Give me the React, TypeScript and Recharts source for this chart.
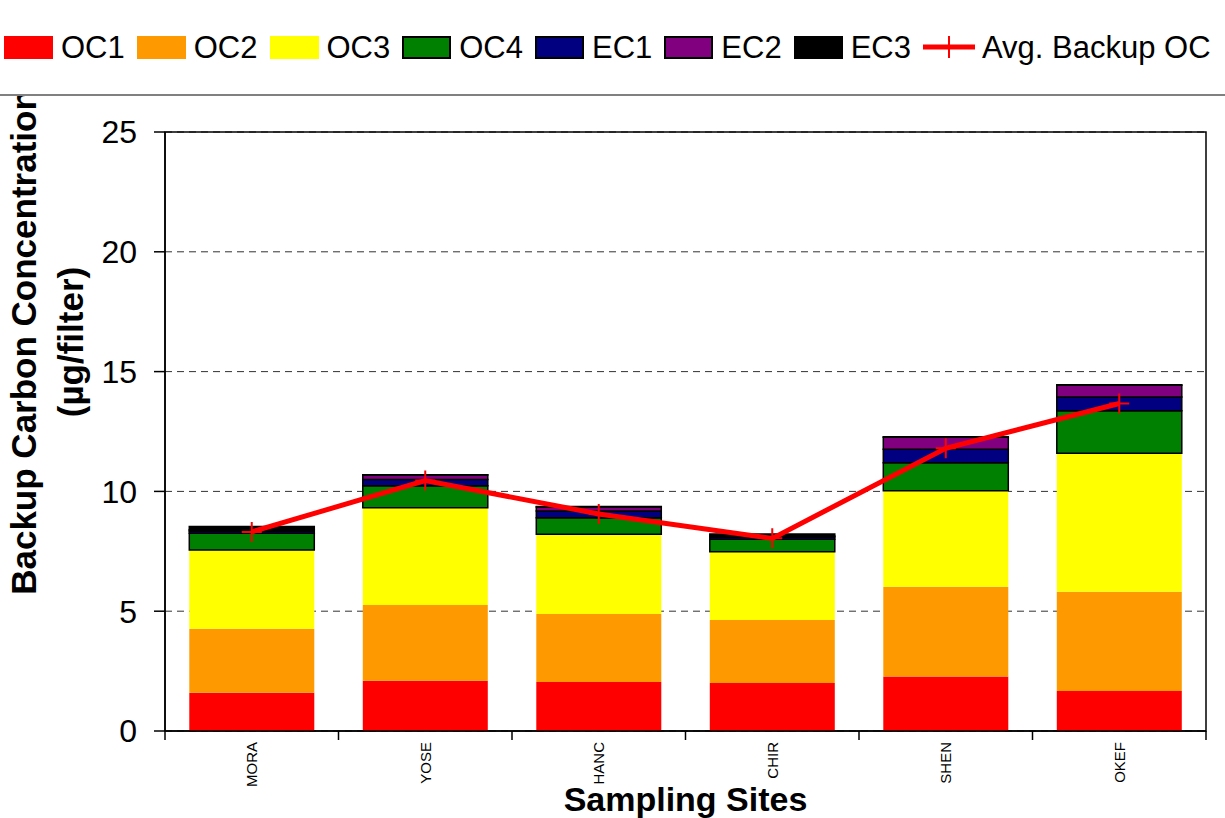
import React from 'react';
import {
  ComposedChart,
  Bar,
  Line,
  XAxis,
  YAxis,
  CartesianGrid,
  Legend,
  ReferenceArea,
} from 'recharts';

const sites = ['MORA', 'YOSE', 'HANC', 'CHIR', 'SHEN', 'OKEF'];
const oc1 = [1.6, 2.1, 2.05, 2.0, 2.27, 1.67];
const oc2 = [2.67, 3.16, 2.83, 2.63, 3.75, 4.14];
const oc3 = [3.28, 4.06, 3.33, 2.85, 4.01, 5.78];
const oc4 = [0.7, 0.92, 0.69, 0.52, 1.17, 1.78];
const ec1 = [0.1, 0.26, 0.28, 0.1, 0.56, 0.57];
const ec2 = [0.05, 0.18, 0.17, 0.04, 0.5, 0.49];
const ec3 = [0.13, 0.02, 0.02, 0.08, 0.02, 0.02];
const avgBackupOC = [8.31, 10.45, 9.06, 8.04, 11.8, 13.67];
const yTicks = [0, 5, 10, 15, 20, 25];

const data = sites.map((site, i) => ({
  site,
  OC1: oc1[i],
  OC2: oc2[i],
  OC3: oc3[i],
  OC4: oc4[i],
  EC1: ec1[i],
  EC2: ec2[i],
  EC3: ec3[i],
  avg: avgBackupOC[i],
}));

const FONT = '"Liberation Sans", Arial, Helvetica, sans-serif';

const series = [
  { key: 'OC1', color: '#FF0000', border: false },
  { key: 'OC2', color: '#FF9900', border: false },
  { key: 'OC3', color: '#FFFF00', border: false },
  { key: 'OC4', color: '#008000', border: true },
  { key: 'EC1', color: '#000080', border: true },
  { key: 'EC2', color: '#800080', border: true },
  { key: 'EC3', color: '#000000', border: true },
];

const X_TICK_SIZE = 8;
const X_TICK_MARGIN = 3;

const XTick = (props: any) => {
  const { x, y, payload, index, visibleTicksCount, width } = props;
  const count = visibleTicksCount || sites.length;
  const half = (width || 1041) / count / 2;
  const axisY = y - X_TICK_SIZE - X_TICK_MARGIN;
  return (
    <g>
      <line x1={x - half} x2={x - half} y1={axisY} y2={axisY + 9} stroke="#000" strokeWidth={1.5} />
      {index === count - 1 && (
        <line x1={x + half} x2={x + half} y1={axisY} y2={axisY + 9} stroke="#000" strokeWidth={1.5} />
      )}
      <text
        x={x}
        y={y}
        dy="0.36em"
        transform={`rotate(-90, ${x}, ${y})`}
        textAnchor="end"
        fontFamily={FONT}
        fontSize={15}
        fill="#000"
      >
        {payload.value}
      </text>
    </g>
  );
};

const PlusDot = (props: any) => {
  const { cx, cy, index } = props;
  if (cx == null || cy == null) return <g key={`d${index}`} />;
  return (
    <path
      key={`d${index}`}
      d={`M${cx - 10},${cy}H${cx + 10}M${cx},${cy - 10}V${cy + 10}`}
      stroke="#FF0000"
      strokeWidth={2}
      fill="none"
    />
  );
};

const YLabel = (props: any) => {
  const cy = 342;
  return (
    <g>
      <text
        x={36}
        y={cy}
        transform={`rotate(-90, 36, ${cy})`}
        textAnchor="middle"
        fontFamily={FONT}
        fontWeight="bold"
        fontSize={35}
        fill="#000"
      >
        Backup Carbon Concentration
      </text>
      <text
        x={83}
        y={cy}
        transform={`rotate(-90, 83, ${cy})`}
        textAnchor="middle"
        fontFamily={FONT}
        fontWeight="bold"
        fontSize={35}
        fill="#000"
      >
        (µg/filter)
      </text>
    </g>
  );
};

const XLabel = (props: any) => {
  const vb = props.viewBox || { x: 165, y: 731, width: 1041, height: 87 };
  return (
    <text
      x={vb.x + vb.width / 2}
      y={811}
      textAnchor="middle"
      fontFamily={FONT}
      fontWeight="bold"
      fontSize={34}
      fill="#000"
    >
      Sampling Sites
    </text>
  );
};

const LegendContent = () => (
  <div
    style={{
      width: 1225,
      height: 94,
      background: '#fff',
      borderBottom: '2px solid #808080',
      display: 'flex',
      alignItems: 'center',
      paddingLeft: 4,
      boxSizing: 'content-box',
      fontFamily: FONT,
      fontSize: 31,
      color: '#000',
      lineHeight: 1,
    }}
  >
    {series.map((s) => (
      <div key={s.key} style={{ display: 'flex', alignItems: 'center', marginRight: 12 }}>
        <div
          style={{
            width: 49,
            height: 23,
            background: s.color,
            border: s.border ? '2px solid #000' : 'none',
            boxSizing: 'border-box',
            marginRight: 8,
          }}
        />
        <span>{s.key}</span>
      </div>
    ))}
    <div style={{ display: 'flex', alignItems: 'center' }}>
      <svg width={52} height={24} style={{ marginRight: 7 }}>
        <line x1={0} x2={52} y1={12} y2={12} stroke="#FF0000" strokeWidth={5} />
        <line x1={26} x2={26} y1={1} y2={23} stroke="#FF0000" strokeWidth={2} />
      </svg>
      <span>Avg. Backup OC</span>
    </div>
  </div>
);

export default function App() {
  return (
    <div style={{ position: 'absolute', left: 0, top: 0, width: 1225, height: 818, background: '#fff' }}>
      <ComposedChart
        width={1225}
        height={818}
        data={data}
        margin={{ top: 132, right: 19, bottom: 0, left: 0 }}
        barCategoryGap="14%"
      >
        <CartesianGrid horizontal vertical={false} stroke="#333" strokeDasharray="7 5" />
        <ReferenceArea y1={0} y2={25} fill="none" stroke="#000" strokeWidth={1.5} />
        <XAxis
          dataKey="site"
          height={87}
          tickLine={false}
          tickSize={X_TICK_SIZE}
          tickMargin={X_TICK_MARGIN}
          tick={<XTick />}
          interval={0}
          axisLine={{ stroke: '#000', strokeWidth: 1.5 }}
          label={{ content: <XLabel /> } as any}
        />
        <YAxis
          width={165}
          domain={[0, 25]}
          ticks={yTicks}
          interval={0}
          tickSize={11}
          tickMargin={17}
          tickLine={{ stroke: '#000', strokeWidth: 1.5 }}
          axisLine={{ stroke: '#000', strokeWidth: 1.5 }}
          tick={{ fontFamily: FONT, fontSize: 32, fill: '#000' }}
          label={{ content: <YLabel /> } as any}
        />
        {series.map((s) => (
          <Bar
            key={s.key}
            dataKey={s.key}
            stackId="a"
            fill={s.color}
            stroke={s.border ? '#000' : 'none'}
            strokeWidth={s.border ? 1.5 : 0}
            isAnimationActive={false}
          />
        ))}
        <Line
          dataKey="avg"
          stroke="#FF0000"
          strokeWidth={5}
          dot={(p: any) => <PlusDot {...p} />}
          activeDot={false}
          isAnimationActive={false}
        />
        <Legend
          layout="vertical"
          align="center"
          verticalAlign="middle"
          wrapperStyle={{ top: 0, left: 0, width: 1225, height: 96 }}
          content={<LegendContent />}
        />
      </ComposedChart>
    </div>
  );
}
